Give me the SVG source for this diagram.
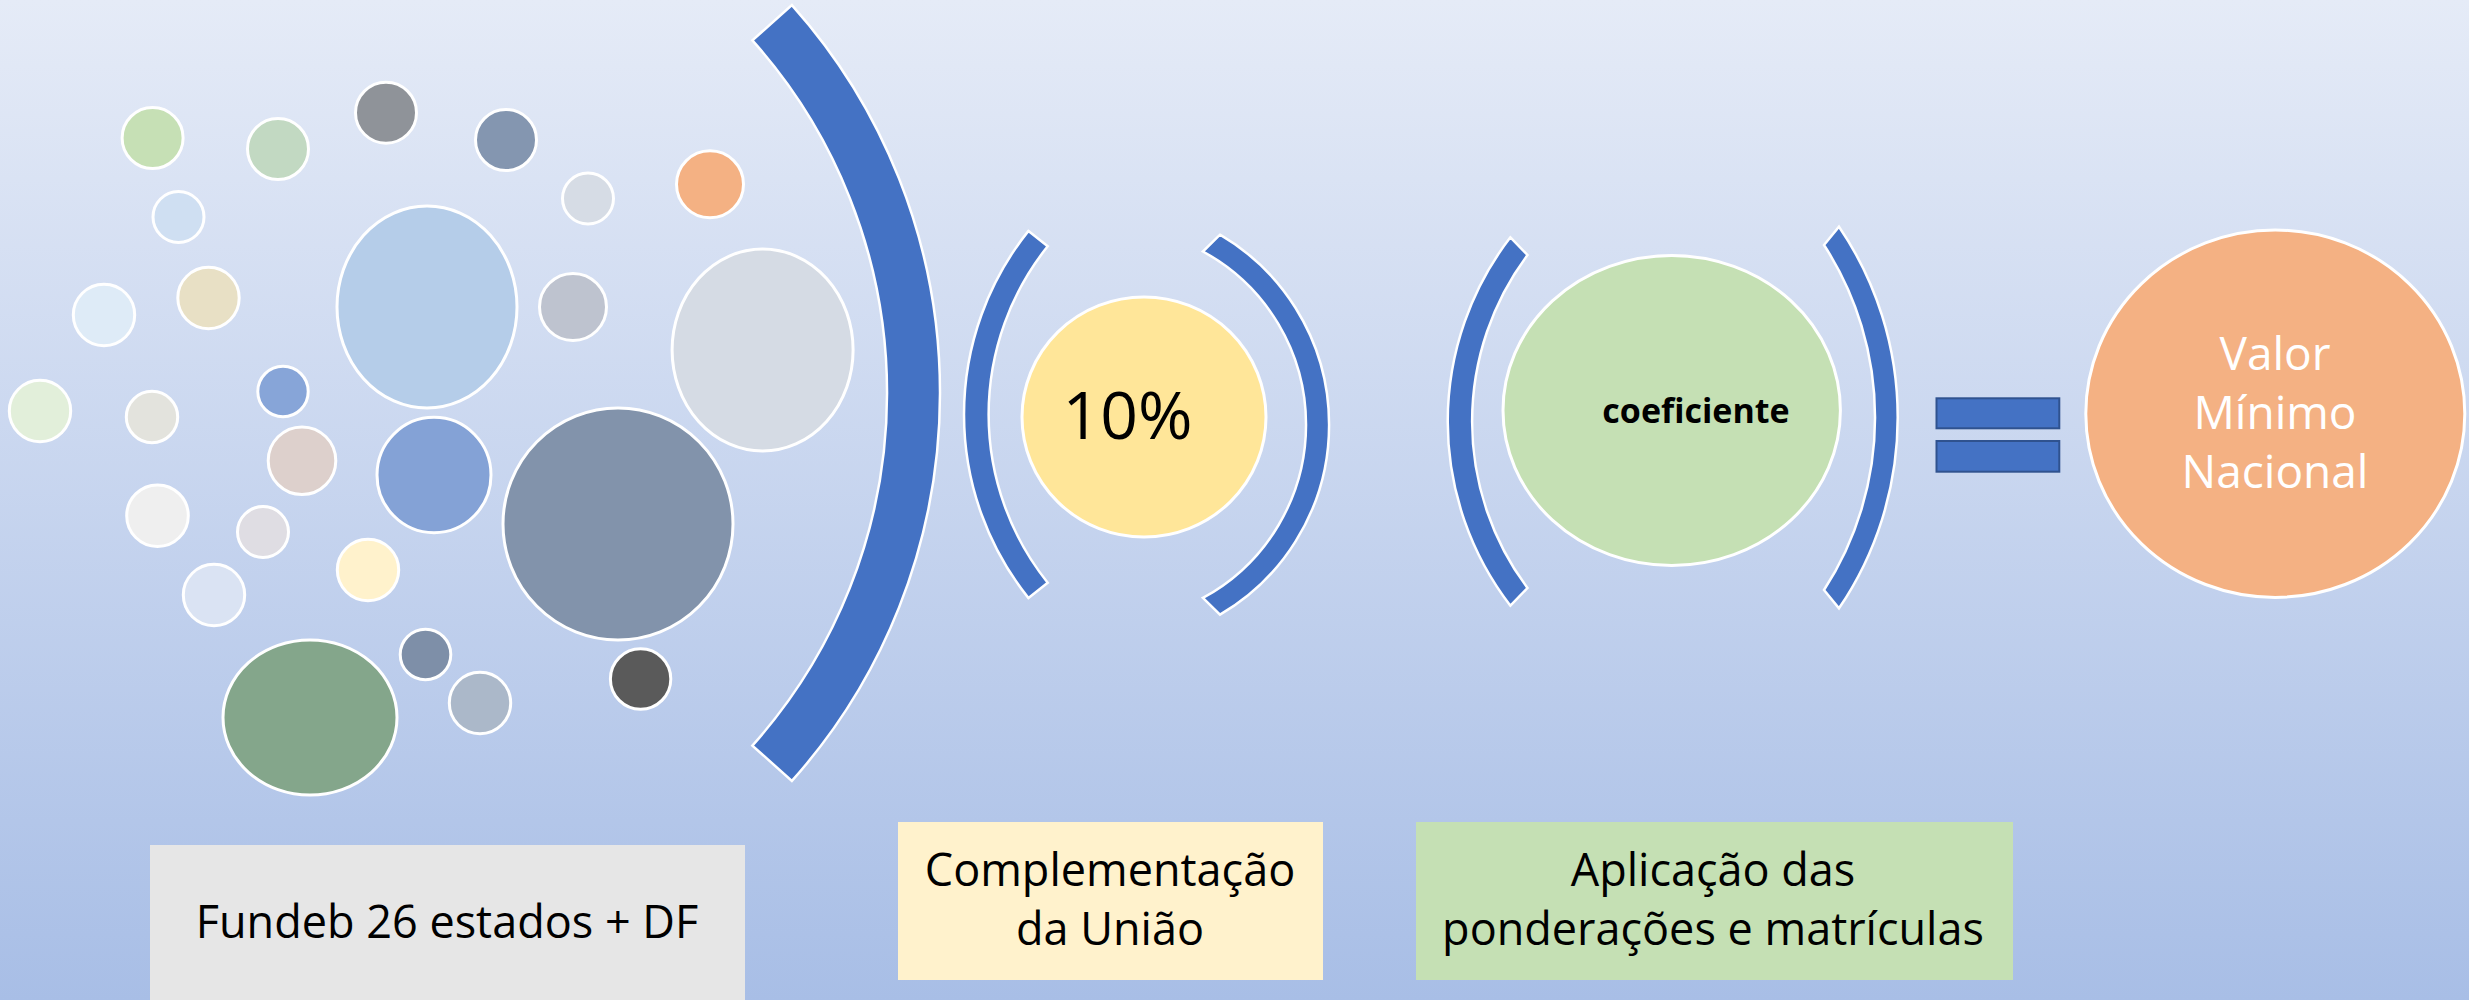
<svg xmlns="http://www.w3.org/2000/svg" width="2469" height="1000" viewBox="0 0 2469 1000">
<defs>
<linearGradient id="bg" x1="0" y1="0" x2="0" y2="1">
<stop offset="0" stop-color="#e5ebf7"/>
<stop offset="1" stop-color="#a8bee6"/>
</linearGradient>
</defs>
<style>
.c{stroke:#ffffff;stroke-width:3}
.br{fill:#4472c4;stroke:#ffffff;stroke-width:2.5}
.eq{fill:#4472c4;stroke:#2f528f;stroke-width:2}
.lbl{font-family:"Open Sans","Noto Sans",sans-serif;font-size:45px;fill:#000000;text-anchor:middle}
.wt{font-family:"Open Sans","Noto Sans",sans-serif;font-size:46px;fill:#ffffff;text-anchor:middle}
</style>
<rect x="0" y="0" width="2469" height="1000" fill="url(#bg)"/>
<g id="circles">
<circle class="c" cx="152.6" cy="138" r="30.5" fill="#c6e0b5"/>
<circle class="c" cx="278" cy="149" r="30.5" fill="#c2d9c2"/>
<circle class="c" cx="386" cy="112.7" r="30.5" fill="#8f9399"/>
<circle class="c" cx="506" cy="140" r="30.5" fill="#8496b0"/>
<circle class="c" cx="588" cy="198.5" r="25.5" fill="#d6dce5"/>
<circle class="c" cx="710" cy="184.3" r="33.5" fill="#f4b183"/>
<circle class="c" cx="178.5" cy="217" r="25.5" fill="#cfdff2"/>
<ellipse class="c" cx="427" cy="307" rx="90" ry="101" fill="#b5cde9"/>
<circle class="c" cx="573" cy="307" r="33.5" fill="#bec3cf"/>
<ellipse class="c" cx="762.6" cy="350" rx="90.5" ry="101" fill="#d5dbe4"/>
<circle class="c" cx="104" cy="315" r="30.7" fill="#deebf7"/>
<circle class="c" cx="208.5" cy="298" r="30.7" fill="#e8e0c5"/>
<circle class="c" cx="40" cy="411" r="30.7" fill="#e2efda"/>
<circle class="c" cx="152" cy="417" r="25.7" fill="#e3e3dd"/>
<circle class="c" cx="283" cy="391.5" r="25.2" fill="#87a5d8"/>
<circle class="c" cx="302" cy="460.7" r="33.8" fill="#ddd0cc"/>
<ellipse class="c" cx="434" cy="475" rx="57" ry="57.7" fill="#84a2d6"/>
<ellipse class="c" cx="618" cy="524" rx="115" ry="116" fill="#8293ab"/>
<circle class="c" cx="157.5" cy="515.7" r="30.8" fill="#efefef"/>
<circle class="c" cx="263" cy="532" r="25.5" fill="#dfdde3"/>
<circle class="c" cx="214" cy="595" r="30.7" fill="#dae3f3"/>
<circle class="c" cx="368" cy="570" r="30.7" fill="#fff2cc"/>
<ellipse class="c" cx="310" cy="717.5" rx="87" ry="77.5" fill="#84a68b"/>
<circle class="c" cx="425.5" cy="654.5" r="25.3" fill="#7e8fa8"/>
<circle class="c" cx="480" cy="703" r="30.7" fill="#abb8c9"/>
<circle class="c" cx="640.6" cy="679" r="30.2" fill="#5a5a5a"/>
</g>
<g id="connectors">
<path class="br" d="M791.9,5.1 A582,582 0 0 1 791.9,780.9 L752.4,745.6 A529,529 0 0 0 752.4,40.4 Z"/>
<path class="br" d="M1028.5,230.9 A293.6,293.6 0 0 0 1028.5,598.1 L1047.7,582.7 A269,269 0 0 1 1047.7,246.3 Z"/>
<path class="br" d="M1220,234.7 A220,220 0 0 1 1220,614.7 L1202.9,597.9 A197,197 0 0 0 1202.9,251.5 Z"/>
<path class="br" d="M1510.4,237.3 A302,302 0 0 0 1510.4,605.7 L1527.5,588 A278,278 0 0 1 1527.5,255 Z"/>
<path class="br" d="M1839,226.7 A339.4,339.4 0 0 1 1839,608.3 L1824,590 A317,317 0 0 0 1824,245 Z"/>
<rect class="eq" x="1936.5" y="398.3" width="122.8" height="30"/>
<rect class="eq" x="1936.5" y="441" width="122.8" height="30.7"/>
</g>
<g id="node-10pct">
<ellipse class="c" cx="1144" cy="417" rx="122" ry="120" fill="#ffe699"/>
<text x="1127.5" y="439" font-family="'Open Sans','Noto Sans',sans-serif" font-size="66" text-anchor="middle" fill="#000000">10%</text>
</g>
<g id="node-coeficiente">
<ellipse class="c" cx="1671.7" cy="410.5" rx="168.7" ry="155" fill="#c5e0b4"/>
<text x="1696" y="423" font-family="'Open Sans','Noto Sans',sans-serif" font-size="34" font-weight="bold" text-anchor="middle" fill="#000000">coeficiente</text>
</g>
<g id="node-valor">
<ellipse class="c" cx="2275.3" cy="413.7" rx="189.5" ry="183.7" fill="#f4b183"/>
<text class="wt" x="2275" y="370">Valor</text>
<text class="wt" x="2275" y="428.5">Mínimo</text>
<text class="wt" x="2275" y="487.5">Nacional</text>
</g>
<g id="box-fundeb">
<rect x="150" y="845" width="595" height="160" fill="#e6e6e6"/>
<text class="lbl" x="447" y="938">Fundeb 26 estados + DF</text>
</g>
<g id="box-uniao">
<rect x="898" y="822" width="425" height="158" fill="#fff2cc"/>
<text class="lbl" x="1110" y="886">Complementação</text>
<text class="lbl" x="1110" y="945">da União</text>
</g>
<g id="box-ponderacoes">
<rect x="1416" y="822" width="597" height="158" fill="#c5e0b4"/>
<text class="lbl" x="1713" y="886">Aplicação das</text>
<text class="lbl" x="1713" y="945">ponderações e matrículas</text>
</g>
</svg>
